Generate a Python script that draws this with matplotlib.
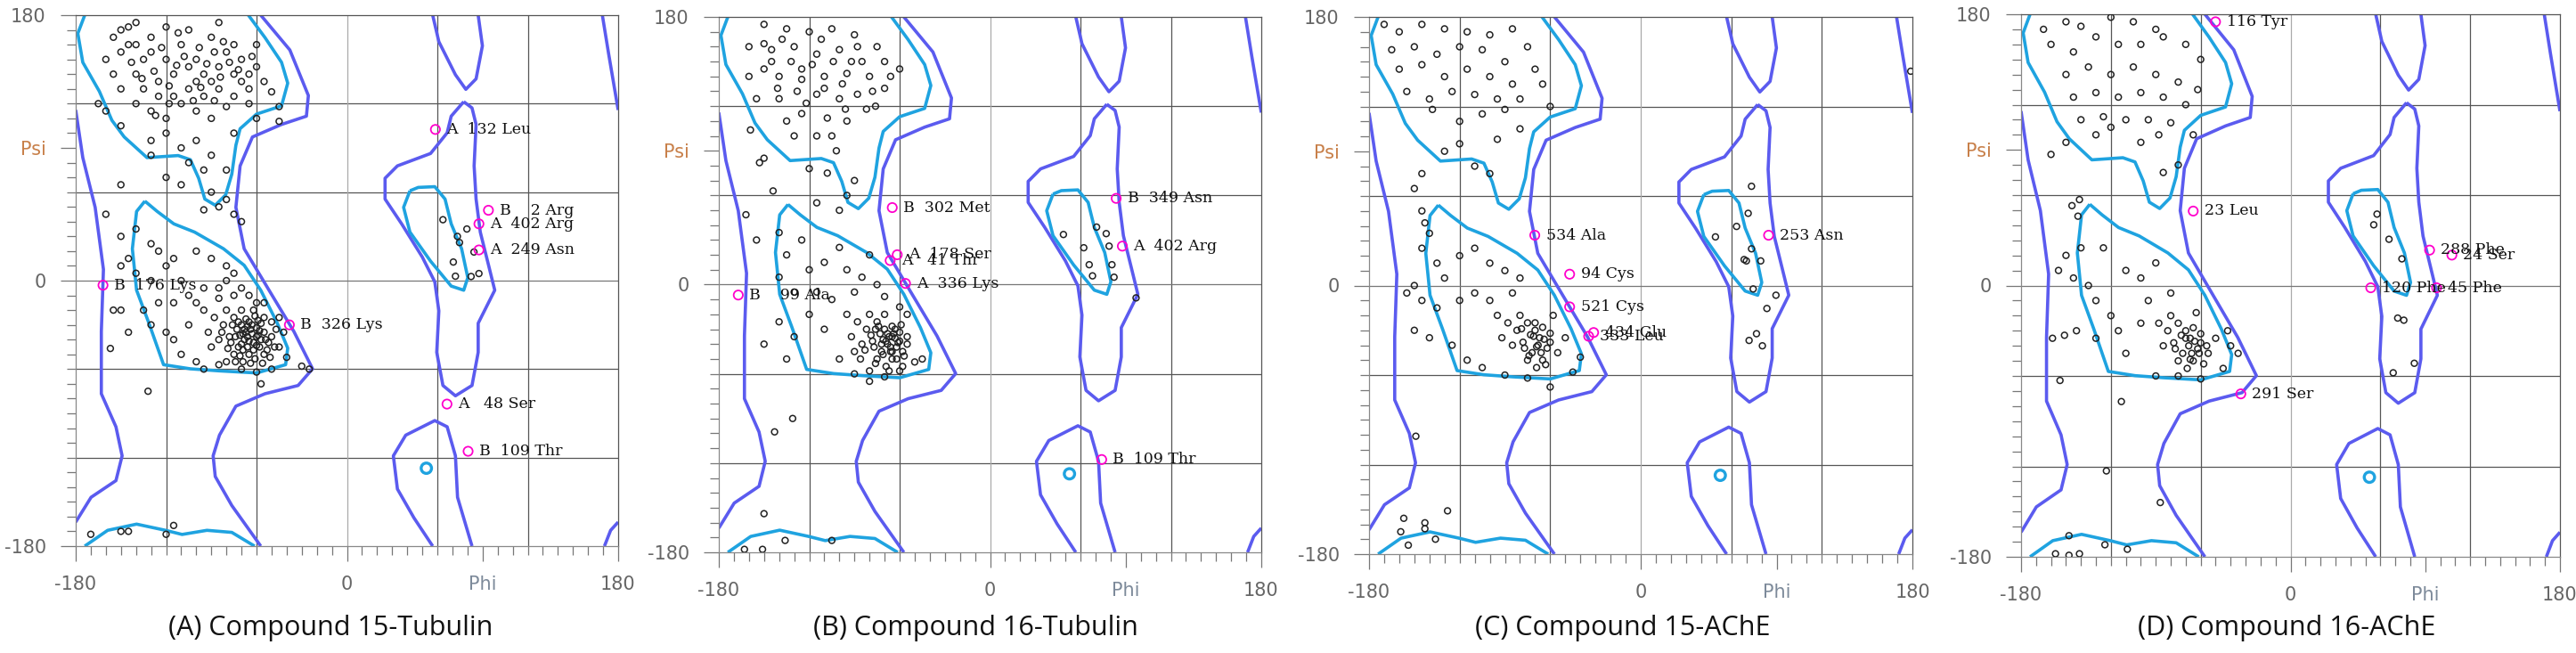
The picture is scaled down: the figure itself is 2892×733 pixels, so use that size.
import matplotlib
matplotlib.use("Agg")
import matplotlib.pyplot as plt
import numpy as np

# ---------------- contour outlines (phi, psi) ----------------
cyan_beta = [(-174,180),(-178.6,167.6),(-175.3,148),(-164.3,128.3),(-156,108.7),(-147.8,97.4),(-132.7,83.4),(-112,84.8),(-103.9,82),(-98.4,69.4),(-94.3,55.3),(-87.4,51.1),(-80.5,58.1),(-76.4,72.2),(-73.7,91.8),(-70.9,103),(-60,112.9),(-43.4,118.5),(-39.3,133.9),(-43.4,148),(-54.4,164.8),(-65.4,180)]
cyan_bottom = [(-174,-180),(-158.8,-169.3),(-139.6,-165.1),(-120.4,-169.3),(-109.4,-172.1),(-92.9,-169.3),(-76.4,-170.7),(-61.3,-180)]
cyan_alpha = [(-134.1,53.9),(-139.6,46.9),(-142.4,21.6),(-139.6,-6.5),(-131.4,-28.9),(-121.7,-57),(-103.9,-59.8),(-84.6,-61.2),(-59.9,-62.6),(-40.7,-57),(-39.3,-45.8),(-46.2,-28.9),(-57.2,-6.5),(-68.2,10.4),(-81.9,21.6),(-101.1,32.9),(-114.9,38.5),(-125.9,46.9),(-134.1,53.9)]
cyan_left = [(41.8,60.9),(37.6,49.7),(41.8,32.9),(55.5,13.2),(69.2,-3.7),(77.5,-6.5),(80.2,2),(76.1,21.6),(69.2,38.5),(65.1,55.3),(58.3,63.7),(47.3,63.2),(41.8,60.9)]
cyan_dot = (52.7, -127.2)

blue_left = [(-180,115.7),(-175.3,83.4),(-167.1,49.7),(-161.6,7.6),(-163,-34.5),(-163,-76.7),(-153.3,-99.1),(-149.2,-118.8),(-153.3,-135.6),(-169.8,-146.9),(-180,-163.7)]
blue_mid = [(-57.2,180),(-37.9,156.4),(-25.6,125.5),(-26.9,111.5),(-43.4,105.9),(-62.7,97.4),(-70.9,77.8),(-73.7,49.7),(-68.2,21.6),(-51.7,-6.5),(-35.2,-34.5),(-22.8,-59.8),(-32.4,-71.1),(-54.4,-76.7),(-73.7,-85.1),(-84.6,-104.8),(-88.8,-118.8),(-87.4,-132.8),(-76.4,-152.5),(-57.2,-180)]
blue_rtop = [(56.9,180),(61,162),(72,139.6),(78.9,129.7),(85.7,136.8),(89.9,159.2),(87.1,180)]
blue_rmid = [(77.5,121.3),(69.2,111.5),(66.5,100.2),(55.5,86.2),(33.5,77.8),(25.3,69.4),(25.3,55.3),(36.3,38.5),(50,16),(58.3,-0.8),(61,-20.5),(59.6,-48.6),(63.7,-71.1),(72,-78.1),(83,-71.1),(87.1,-48.6),(87.1,-28.9),(92.6,-17.7),(98.1,-6.5),(94,10.4),(88.5,32.9),(85.7,55.3),(84.4,77.8),(85.7,105.9),(83,117.1),(77.5,121.3)]
blue_rbot = [(56.9,-180),(44.5,-160.9),(33.5,-141.3),(30.8,-118.8),(39,-104.8),(58.3,-94.9),(66.5,-99.1),(72,-118.8),(73.4,-146.9),(83,-180)]
blue_edge_top = [(169.5,180),(173.7,153.6),(180,115.7)]
blue_edge_bot = [(170.9,-180),(175,-169.3),(180,-163.7)]

# dense alpha-helix core shared look (estimated per panel below)
A_pts = [(-150,170),(-140,175),(-120,172),(-105,170),(-90,165),(-75,160),(-160,150),(-145,160),(-130,155),(-120,150),(-110,160),(-100,150),(-95,140),(-85,145),(-80,155),(-70,150),(-65,140),(-60,145),(-55,135),(-50,128),(-45,118),(-45,108),(-155,140),(-150,130),(-140,140),(-135,130),(-125,135),(-115,140),(-105,130),(-95,125),(-85,130),(-75,125),(-70,135),(-65,120),(-60,110),(-140,120),(-130,115),(-120,110),(-110,120),(-100,115),(-90,110),(-80,118),(-165,120),(-160,115),(-150,105),(-130,95),(-120,100),(-110,90),(-100,95),(-90,85),(-130,85),(-105,80),(-95,75),(-120,70),(-110,65),(-90,60),(-85,50),(-95,48),(-80,55),(-75,45),(-70,40),(-80,75),(-75,100),(-60,160),(-85,175),(-130,165),(-135,150),(-115,125),(-125,125),(-100,135),(-90,135),(-140,160),(-150,155),(-105,145),(-75,140),(-65,130),(-145,172),(-112,168),(-98,158),(-128,142),(-82,162),(-155,165),(-118,132),(-88,122),
 (-108,152),(-93,147),(-78,148),(-123,158),(-136,137),(-102,122),(-84,138),(-113,146),(-97,131),(-72,143),(-143,148),(-118,120),(-88,155),(-63,152),(-127,112),
 (-150,30),(-160,45),(-150,65),(-140,35),(-130,25),(-125,20),(-145,15),(-150,10),(-140,5),(-130,0),(-120,10),(-110,0),(-115,15),(-100,20),(-90,15),(-80,10),(-75,5),(-70,-5),(-85,-5),(-95,-5),(-105,-10),(-115,-15),(-125,-15),(-135,-20),(-150,-20),(-155,-20),(-130,-30),(-120,-35),(-115,-40),(-105,-30),(-110,-50),(-100,-55),(-95,-60),(-85,-57),(-80,-55),(-70,-60),(-60,-62),(-50,-60),(-45,-45),(-40,-52),(-30,-58),(-25,-60),(-57,-70),(-132,-75),(-157,-46),(-145,-35),
 (-75,-25),(-70,-30),(-65,-28),(-60,-32),(-55,-35),(-50,-38),(-68,-40),(-62,-42),(-58,-45),(-72,-45),(-78,-38),(-82,-30),(-65,-50),(-55,-50),(-75,-50),(-60,-38),(-70,-20),(-62,-20),(-55,-25),(-50,-28),(-48,-45),(-85,-40),(-88,-25),(-80,-20),(-67,-35),(-63,-36),(-57,-40),(-73,-33),(-66,-45),(-52,-42),(-77,-42),(-59,-27),(-69,-55),(-61,-53),(-90,-45),(-92,-35),(-95,-20),(-100,-15),(-60,-15),(-55,-15),(-45,-25),(-42,-35),(-65,-10),(-75,-10),(-80,0),(-85,-12),(-64,-33),(-71,-37),(-66,-38),(-58,-34),(-53,-47),(-76,-30),(-69,-47),(-61,-24),(-74,-55),(-56,-56),
 (-63,-30),(-68,-33),(-59,-37),(-65,-41),(-70,-43),(-62,-47),(-67,-26),(-72,-28),(-57,-29),(-54,-40),(-74,-38),(-79,-46),(-71,-51),(-64,-56),(-51,-52),(-47,-33),(-83,-35),(-60,-44),(-66,-31),(-69,-36),
 (-120,-172),(-115,-166),(-150,-170),(-145,-170),(-170,-172),
 (63.7,41.3),(73.3,30),(74.7,25.8),(79.6,35),(84.3,19.4),(70.6,12.6),(72,3),(82.4,2.8),(87.6,4.8)]
A_hl = [(58.7,102.5),(93.9,47.7),(87.6,38.5),(87.6,20.8),(-161.9,-3.1),(-38.2,-30),(66.4,-83.7),(80.4,-115.7)]
A_lab = ["A  132 Leu","B    2 Arg","A  402 Arg","A  249 Asn","B  176 Lys","B  326 Lys","A   48 Ser","B  109 Thr"]

B_pts = [(-150,175),(-135,172),(-120,170),(-105,172),(-90,168),(-75,160),(-160,160),(-145,158),(-130,160),(-115,155),(-100,158),(-85,150),(-70,150),(-60,145),(-160,140),(-150,145),(-140,140),(-125,145),(-110,140),(-95,142),(-80,140),(-70,132),(-155,125),(-140,125),(-128,130),(-115,128),(-100,125),(-88,128),(-76,120),(-135,110),(-125,115),(-108,112),(-95,110),(-130,100),(-115,100),(-102,90),(-150,85),(-120,78),(-108,75),(-90,70),(-95,60),(-100,50),(-115,55),(-145,150),(-112,165),(-98,135),(-82,118),(-138,165),(-125,138),(-92,150),(-66,140),(-105,100),
 (-118,148),(-104,150),(-132,150),(-88,160),(-122,122),(-96,118),(-141,132),(-110,132),(-78,130),(-150,162),
 (-162,47),(-155,30),(-144,63),(-153,82),(-159,104),(-131,-90),(-143,-99),(-150,-154),(-136,-172),(-105,-172),(-163,-178),(-151,-178),
 (-140,35),(-135,20),(-125,30),(-120,10),(-110,15),(-100,25),(-95,10),(-85,5),(-80,20),(-75,0),(-140,5),(-130,-5),(-115,-5),(-105,-10),(-90,-5),(-70,-8),(-140,-25),(-130,-35),(-120,-20),(-110,-30),(-135,-50),(-150,-40),(-100,-50),(-90,-60),(-80,-65),(-70,-62),(-60,-58),(-50,-52),(-45,-50),(-55,-40),(-65,-45),
 (-75,-25),(-70,-30),(-65,-28),(-60,-32),(-55,-35),(-68,-40),(-62,-42),(-58,-45),(-72,-45),(-78,-38),(-82,-30),(-65,-50),(-75,-50),(-60,-38),(-70,-20),(-85,-40),(-88,-25),(-80,-20),(-67,-35),(-63,-36),(-73,-33),(-66,-45),(-77,-42),(-59,-27),(-69,-55),(-90,-45),(-92,-35),(-95,-20),(-60,-15),(-55,-20),(-64,-33),(-71,-37),(-76,-30),(-86,-50),(-80,-58),(-58,-55),
 (-63,-30),(-68,-33),(-61,-39),(-66,-42),(-71,-47),(-62,-50),(-74,-28),(-79,-34),(-57,-48),(-83,-44),(-69,-38),(-65,-35),(-72,-40),(-76,-53),(-67,-58),
 (48.7,33.7),(62.2,24.8),(70.7,38.7),(77.1,34.3),(79,25.9),(65.8,13.4),(68,5.9),(80.9,13.4),(82.3,5),(96.9,-8.9)]
B_hl = [(-64.9,51.8),(-61.6,20.1),(-66.3,16.2),(-56.1,0.8),(-167.1,-7),(83.7,58),(87.8,25.9),(74.1,-117.6)]
B_lab = ["B  302 Met","A  178 Ser","A   41 Thr","A  336 Lys","B    99 Ala","B  349 Asn","A  402 Arg","B  109 Thr"]

C_pts = [(-170,175),(-160,170),(-145,175),(-130,172),(-115,170),(-100,168),(-85,172),(-165,158),(-150,160),(-135,155),(-120,160),(-105,158),(-90,150),(-75,160),(-160,145),(-145,148),(-130,140),(-115,145),(-100,140),(-85,135),(-70,145),(-155,130),(-140,125),(-125,130),(-110,128),(-95,125),(-80,125),(-120,110),(-105,115),(-90,118),(-120,95),(-130,90),(-110,80),(-100,75),(-145,75),(-150,65),(-65,135),(-80,105),(-60,120),(-138,118),(-95,98),
 (-149,-101),(-157,-156),(-143,-159),(-143,-163),(-159,-165),(-154,-174),(-136,-170),(-128,-151),
 (-145,50),(-143,42),(-140,35),(-145,25),(-135,15),(-130,5),(-120,20),(-110,25),(-100,15),(-90,10),(-80,5),(-150,0),(-155,-5),(-145,-10),(-135,-15),(-120,-10),(-110,-5),(-100,-10),(-150,-30),(-140,-35),(-125,-40),(-115,-50),(-105,-55),(-90,-60),(-75,-62),(-60,-68),(-45,-58),(-40,-48),(-85,-5),(-70,-25),
 (-75,-25),(-70,-30),(-65,-28),(-60,-32),(-68,-40),(-62,-42),(-72,-45),(-78,-38),(-82,-30),(-65,-50),(-75,-50),(-60,-38),(-85,-40),(-88,-25),(-80,-20),(-67,-35),(-73,-33),(-66,-45),(-77,-42),(-69,-55),(-55,-45),(-50,-35),(-92,-35),(-95,-20),(-58,-20),
 (-71,-34),(-69,-41),(-74,-47),(-64,-36),(-79,-29),(-63,-53),
 (49.5,32.6),(63.5,39.6),(71.2,48.4),(73.4,66.5),(73.4,24.6),(68.5,17.4),(70,16.5),(79.5,16.5),(74.5,-2.3),(89.6,-6.5),(83.6,-15.4),(76.7,-32.3),(71.8,-36.8),(80.6,-40.4),(178.9,143.6)]
C_hl = [(-70.2,33.7),(-47.1,7.6),(-47.1,-14.3),(-31.2,-31.5),(-34.5,-34),(84.7,33.7)]
C_lab = ["534 Ala","94 Cys","521 Cys","434 Glu","333 Leu","253 Asn"]

D_pts = [(-165,170),(-150,175),(-140,172),(-120,178),(-105,175),(-90,170),(-160,160),(-145,155),(-130,165),(-115,160),(-100,160),(-85,165),(-70,160),(-60,150),(-150,140),(-135,145),(-120,140),(-105,145),(-90,140),(-75,135),(-62,130),(-145,125),(-130,128),(-115,125),(-100,128),(-85,125),(-70,120),(-140,110),(-125,112),(-110,110),(-95,110),(-80,108),(-65,100),(-150,95),(-130,100),(-100,95),(-88,100),(-85,75),(-75,80),(-120,105),(-160,87),
 (-146,53),(-141,57),(-142,46),(-159,-35),(-151,-33),(-143,-30),(-154,-63),(-113,-77),(-123,-123),(-87,-144),(-148,-166),(-157,-178),(-148,-179),(-141,-178),(-124,-172),(-109,-175),
 (-140,25),(-150,20),(-155,10),(-145,5),(-135,0),(-125,25),(-110,10),(-100,5),(-90,15),(-130,-10),(-120,-20),(-115,-30),(-100,-25),(-95,-10),(-130,-35),(-110,-45),(-90,-60),(-75,-60),(-60,-62),(-45,-55),(-40,-40),(-35,-45),(-42,-30),
 (-75,-25),(-70,-30),(-65,-28),(-60,-32),(-68,-40),(-62,-42),(-72,-45),(-78,-38),(-82,-30),(-65,-50),(-75,-50),(-60,-38),(-85,-40),(-88,-25),(-80,-20),(-67,-35),(-73,-33),(-66,-45),(-77,-42),(-69,-55),(-55,-45),(-50,-35),(-58,-52),(-63,-18),(-80,-5),
 (-64,-37),(-70,-35),(-61,-45),(-67,-49),(-56,-40),
 (57.8,47.4),(55.6,40.3),(65.8,30.7),(74.4,17.7),(71.6,-21.6),(75.7,-23),(82.7,-51.6),(68.6,-57.9)]
D_hl = [(-50.1,175),(-65,49.4),(92.9,23.5),(107.8,20.2),(53.6,-1.5),(97.6,-1.5),(-33.2,-71.9)]
D_lab = ["116 Tyr","23 Leu","288 Phe","24 Ser","120 Phe","45 Phe","291 Ser"]

titles = ["(A) Compound 15-Tubulin","(B) Compound 16-Tubulin","(C) Compound 15-AChE","(D) Compound 16-AChE"]

W, H = 2892, 733
fig = plt.figure(figsize=(W/100, H/100), dpi=100)
boxes = [(85,17,694,613),(807,19,1416,620),(1537,19,2147,622),(2269,16,2874,625)]
title_x = [371,1095,1822,2567]
panels = [(A_pts,A_hl,A_lab),(B_pts,B_hl,B_lab),(C_pts,C_hl,C_lab),(D_pts,D_hl,D_lab)]

BLUE = "#5b5bef"
CYAN = "#1fa3e0"

for i,(box,(pts,hl,lab)) in enumerate(zip(boxes,panels)):
    x0,y0,x1,y1 = box
    ax = fig.add_axes([x0/W, 1-y1/H, (x1-x0)/W, (y1-y0)/H])
    ax.set_xlim(-180,180); ax.set_ylim(-180,180)
    for g in (-120,-60,60,120):
        ax.axvline(g,color="#555555",lw=0.9,zorder=1)
        ax.axhline(g,color="#555555",lw=0.9,zorder=1)
    ax.axvline(0,color="#aaaaaa",lw=0.9,zorder=1)
    ax.axhline(0,color="#777777",lw=0.9,zorder=1)
    for c in (blue_left,blue_mid,blue_rtop,blue_rmid,blue_rbot,blue_edge_top,blue_edge_bot):
        a = np.array(c); ax.plot(a[:,0],a[:,1],color=BLUE,lw=2.6,zorder=2,solid_capstyle="butt")
    for c in (cyan_beta,cyan_bottom,cyan_alpha,cyan_left):
        a = np.array(c); ax.plot(a[:,0],a[:,1],color=CYAN,lw=2.6,zorder=2,solid_capstyle="butt")
    ax.scatter([cyan_dot[0]],[cyan_dot[1]],s=70,facecolors="none",edgecolors=CYAN,linewidths=2.4,zorder=2)
    p = np.array(pts)
    ax.scatter(p[:,0],p[:,1],s=24,facecolors="none",edgecolors="#222222",linewidths=1.1,zorder=3)
    h = np.array(hl)
    ax.scatter(h[:,0],h[:,1],s=55,facecolors="none",edgecolors="#ff00cc",linewidths=1.3,zorder=4)
    for (hx,hy),t in zip(hl,lab):
        ax.annotate(t,(hx,hy),xytext=(9,0),textcoords="offset points",va="center",ha="left",
                    fontsize=12.5,family="DejaVu Serif",color="#111111",zorder=5)
    for s in ("left","bottom"):
        ax.spines[s].set_color("#888888"); ax.spines[s].set_linewidth(0.9)
    for s in ("top","right"):
        ax.spines[s].set_color("#555555"); ax.spines[s].set_linewidth(0.9)
    ax.set_xticks([-180,0,90,180])
    ax.set_xticklabels(["-180","0","Phi","180"])
    ax.set_yticks([-180,0,90,180])
    ax.set_yticklabels(["-180","0","Psi","180"])
    ax.set_xticks(np.arange(-170,180,10),minor=True)
    ax.set_yticks(np.arange(-170,180,10),minor=True)
    ax.tick_params(which="major",direction="out",length=12,width=0.9,color="#777777",labelsize=15,labelcolor="#666666",pad=12)
    ax.tick_params(which="minor",direction="out",length=7,width=0.9,color="#777777")
    ax.get_xticklabels()[2].set_color("#7d8a9a")
    ax.get_yticklabels()[2].set_color("#c8804a")
    fig.text(title_x[i]/W, 1-705/H, titles[i], ha="center", va="center", fontsize=22, family="Open Sans", color="#111111")

fig.savefig("out.png", dpi=100)
